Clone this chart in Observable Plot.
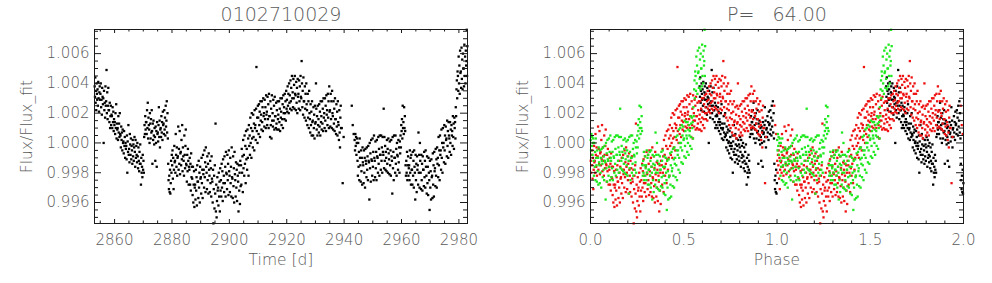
<!DOCTYPE html>
<html><head><meta charset="utf-8">
<script src="https://cdn.jsdelivr.net/npm/d3@7"></script>
<script src="https://cdn.jsdelivr.net/npm/@observablehq/plot@0.6"></script>
<style>
html,body{margin:0;padding:0;background:#fff;overflow:hidden;}
#row{display:flex;width:992px;height:283px;}
svg text{font-weight:200;}
</style></head><body><div id="row"></div>
<script>
// ---- labels / ticks ----
const starId = "0102710029";
const periodLabel = "P=\u00a0\u00a0\u00a064.00";
const period = 64.00;
const epoch = 2815.6;            // start of phase 0 (from colour boundaries)
const cycleColors = ["#000000", "#ee1111", "#1ee81e"];
const yLabel = "Flux/Flux_fit";
const timeLabel = "Time [d]";
const phaseLabel = "Phase";
const timeDomain = [2853, 2983];
const phaseDomain = [0, 2];
const fluxDomain = [0.99459, 1.00762];
const timeMajor = [2860, 2880, 2900, 2920, 2940, 2960, 2980];
const timeMinor = [2855, 2865, 2870, 2875, 2885, 2890, 2895, 2905, 2910, 2915, 2925, 2930, 2935, 2945, 2950, 2955, 2965, 2970, 2975];
const phaseMajor = [0, 0.5, 1, 1.5, 2];
const phaseMinor = [0.1, 0.2, 0.3, 0.4, 0.6, 0.7, 0.8, 0.9, 1.1, 1.2, 1.3, 1.4, 1.6, 1.7, 1.8, 1.9];
const fluxMajor = [0.996, 0.998, 1.000, 1.002, 1.004, 1.006];
const fluxMinor = [0.9950, 0.9955, 0.9965, 0.9970, 0.9975, 0.9985, 0.9990, 0.9995, 1.0005, 1.0010, 1.0015, 1.0025, 1.0030, 1.0035, 1.0045, 1.0050, 1.0055, 1.0065, 1.0070, 1.0075];

// ---- light curve ----
// each block: start time [d]; values = (flux-1)*1e4, samples spread over the block (<= 1 day)
const lastTime = 2983;
const blockStart = [2853,2854,2855,2856,2857,2858,2859,2860,2861,2862,2863,2864,2865,2866,2867,2868,2869,2870,2871,2872,2873,2874,2875,2876,2877,2878,2879,2880,2881,2882,2883,2884,2885,2886,2887,2888,2889,2890,2891,2892,2893,2894,2895,2896,2897,2898,2899,2900,2901,2902,2903,2904,2905,2906,2907,2908,2909,2910,2911,2912,2913,2914,2915,2916,2917,2918,2919,2920,2921,2922,2923,2924,2925,2926,2927,2928,2929,2930,2931,2932,2933,2934,2935,2936,2937,2938,2939,2942.5,2943.6,2944.6,2945.6,2946.6,2947.6,2948.6,2949.6,2950.6,2951.6,2952.6,2953.6,2954.6,2955.6,2956.6,2957.6,2958.6,2959.6,2960.6,2961.6,2962.6,2963.6,2964.6,2965.6,2966.6,2967.6,2968.6,2969.6,2970.6,2971.6,2972.6,2973.6,2974.6,2975.6,2976.6,2977.6,2978.6,2979.6,2980.6,2981.6,2982.6];
const blockFlux = [
[38,31,44,27,35,22,40,33,29],
[36,25,41,30,21,34,38,29],
[33,40,24,29,19,37,31,26],
[30,0,35,22,27,17,38,25],
[28,49,20,34,16,25,37,22],
[22,14,27,10,18,25,12,19],
[18,10,24,14,21,8,16,12],
[14,6,20,10,26,3,13,9],
[10,2,18,7,13,4,20,6],
[5,-3,11,2,7,-5,9,0],
[1,-7,8,-2,4,-10,0,-4],
[-2,-11,5,-20,1,-6,12,-8],
[-4,-13,6,-1,-8,3,-11,-2],
[-5,-14,2,-9,-1,-12,-3,4],
[-6,-16,2,-10,-2,-8,-13,0],
[-9,-17,-3,-12,-19,-6,-14,-1],
[-14,-28,-10,-20,-16,-23,-8,-18],
[-12,-20,4,12,6,18,9,14],
[14,6,22,10,27,3,17,12],
[9,0,20,13,3,16,7,22],
[8,-14,13,2,15,5,-1,10],
[4,-12,11,0,8,-16,14,6],
[7,1,12,24,4,15,-3,9],
[10,4,18,7,14,2,21,12],
[13,6,22,9,17,5,25,11],
[15,28,7,20,3,-14,-25,-31],
[-22,-33,-18,-34,-27,-12,-20,-8],
[-15,-5,-24,-10,-31,-18,-2,-13],
[-12,-20,6,-8,-16,-3,-22,-10],
[-9,11,-18,-4,-14,8,-21,-7],
[-6,-15,2,-11,12,-19,-3,-9],
[-12,-22,5,-8,-17,-2,9,-14],
[-15,-26,-8,-19,-4,-12,-28,-16],
[-18,-10,-28,-14,-32,-7,-23,-16],
[-24,-35,-16,-40,-28,-19,-43,-30],
[-28,-38,-18,-32,-23,-42,-15,-26],
[-26,-37,-12,-30,-20,-40,-16,-24],
[-23,-34,-10,-27,-18,-37,-8,-21],
[-18,-30,-5,-23,-13,-33,-3,-16],
[-20,-31,-9,-25,-14,-34,-7,-18],
[-22,-33,-12,-27,-17,-36,-9,-24],
[-26,-40,-18,-54,-31,-22,-44,-15],
[-34,13,-46,-28,-50,-39,-23,-32],
[-30,-42,-20,-36,-26,-46,-17,-32],
[-25,-36,-14,-30,-19,-39,-11,-27],
[-22,-33,-9,-27,-16,-36,-6,-20],
[-21,-31,-8,-25,-14,-35,-5,-19],
[-22,-33,-10,-27,-16,-36,-3,-23],
[-24,-37,-9,-29,-17,-40,-6,-21],
[-25,-36,-13,-30,-18,-39,-14,-22],
[-26,-46,-15,-32,-20,-41,-12,-29],
[-15,-28,-4,-20,-9,-33,2,-17],
[-8,-22,5,-14,-2,-27,8,-11],
[-4,-18,9,-10,3,-22,12,-2],
[5,-8,17,0,10,-10,20,3],
[8,-3,19,4,13,-5,22,10],
[12,2,23,51,8,17,0,25],
[17,6,26,12,21,4,28,15],
[19,9,28,14,24,8,30,18],
[20,11,29,16,24,10,32,19],
[21,12,31,16,26,10,33,18],
[18,4,28,12,23,3,32,15],
[20,11,29,15,25,9,31,18],
[18,10,27,13,22,9,28,16],
[19,9,28,14,23,8,30,17],
[21,12,30,16,26,10,32,20],
[24,16,33,20,28,15,35,23],
[29,21,38,25,33,20,40,27],
[32,23,42,28,37,22,45,30],
[34,24,43,30,39,23,45,33],
[32,22,41,27,37,20,43,31],
[33,23,42,28,38,22,45,31],
[30,55,40,24,35,19,44,28],
[28,17,38,23,33,15,40,26],
[22,12,33,17,28,10,35,20],
[16,7,26,12,21,5,28,14],
[15,5,24,10,19,3,25,13],
[14,40,23,9,18,5,25,12],
[16,7,26,11,21,5,28,14],
[18,9,28,13,23,8,30,17],
[20,10,30,15,25,8,32,19],
[22,12,33,17,28,10,38,21],
[22,11,33,16,28,10,35,20],
[18,9,28,13,23,8,30,16],
[16,6,26,11,21,5,28,14],
[12,2,22,7,-3,17,25,10],
[10,-27,4],
[25,12,6],
[2,-5,6,-2,4,-8,0,3],
[-12,-22,0,-16,-6,-25,3,-10],
[-15,-26,-5,-19,-10,-28,-3,-13],
[-15,-27,-5,-20,-10,-30,-4,-12],
[-14,-23,-3,-18,-9,-25,-2,-12],
[-13,-38,0,-17,-7,-26,2,-11],
[-12,-22,3,-16,-6,-25,5,-10],
[-12,-23,1,-17,-6,-25,2,-9],
[-10,-20,4,-14,-4,-22,5,-8],
[-8,-18,5,-12,-3,-20,4,-6],
[-8,23,-17,4,-12,-2,-18,-6],
[-10,-19,2,-14,-4,-20,3,-7],
[-11,-21,1,-15,-5,-22,2,-9],
[-12,-34,4,-17,-6,-25,5,-10],
[-10,-20,5,-14,-4,-22,0,-8],
[-9,-18,2,-13,-3,-20,1,-7],
[5,-3,12,8,16,3,25,10],
[14,6,24,10,18,8,-15,-22],
[-12,-20,-6,-25,-15,-9,-22,-17],
[-15,-25,-5,-20,-10,-28,-8,-18],
[-18,-28,-6,-22,-12,-30,-5,-16],
[-20,-38,-8,-25,-14,-33,-9,-18],
[-15,-28,7,-20,-8,-30,0,-12],
[-20,-31,-8,-25,-14,-32,-9,-18],
[-18,-29,-6,-23,-12,-30,-5,-16],
[-22,-34,-9,-27,-16,-35,-10,-20],
[-25,-45,-12,-30,-19,-38,-11,-23],
[-22,-37,-7,-28,-15,-36,-6,-19],
[-17,-29,-4,-22,-11,-30,-3,-14],
[-10,-23,4,-15,-5,-25,5,-8],
[-5,-18,9,-10,0,-20,10,-3],
[0,-13,12,-5,5,-14,11,2],
[3,-9,15,-2,8,-10,14,5],
[3,-6,14,0,9,-8,12,5],
[8,-2,18,4,13,-4,17,10],
[14,3,24,18,36,42,30,48],
[45,35,58,40,52,33,62,47],
[48,37,64,43,56,36,60,50],
[50,38,66,45,58,40,62,52],
[55,76,45,65]
];

// ---- build records ----
const points = [];
blockStart.forEach((s, i) => {
  const vals = blockFlux[i];
  const next = i + 1 < blockStart.length ? blockStart[i + 1] : lastTime;
  const dur = Math.min(1, next - s);
  vals.forEach((v, j) => points.push({t: s + dur * (j + 0.5) / vals.length, f: 1 + v * 1e-4}));
});
const folded = [];
for (const p of points) {
  const x = (p.t - epoch) / period;
  const cycle = Math.floor(x);
  const phase = x - cycle;
  folded.push({phase, f: p.f, cycle}, {phase: phase + 1, f: p.f, cycle});
}
folded.sort((a, b) => a.cycle - b.cycle);

// ---- panels ----
const W = 496, H = 283;
const M = {left: 94, right: 29, top: 29, bottom: 60};
const FH = H - M.top - M.bottom;
const FW = W - M.left - M.right;
const ink = "#1a1a1a", textGrey = "#5a5a5a";

function panel(cfg) {
  return Plot.plot({
    width: W, height: H,
    marginLeft: M.left, marginRight: M.right, marginTop: M.top, marginBottom: M.bottom,
    x: {domain: cfg.xDomain},
    y: {domain: fluxDomain},
    color: {type: "identity"},
    style: {fontFamily: '"DejaVu Sans", sans-serif', background: "#fff"},
    marks: [
      ...cfg.dataMarks,
      Plot.frame({stroke: ink, strokeWidth: 1}),
      Plot.ruleX(cfg.xMajor, {x: d => d, insetTop: FH - 4, stroke: ink}),
      Plot.ruleX(cfg.xMajor, {x: d => d, insetBottom: FH - 4, stroke: ink}),
      Plot.ruleX(cfg.xMinor, {x: d => d, insetTop: FH - 2.5, stroke: ink}),
      Plot.ruleX(cfg.xMinor, {x: d => d, insetBottom: FH - 2.5, stroke: ink}),
      Plot.ruleY(fluxMajor, {y: d => d, insetLeft: FW - 7, stroke: ink}),
      Plot.ruleY(fluxMajor, {y: d => d, insetRight: FW - 7, stroke: ink}),
      Plot.ruleY(fluxMinor, {y: d => d, insetLeft: FW - 4, stroke: ink}),
      Plot.ruleY(fluxMinor, {y: d => d, insetRight: FW - 4, stroke: ink}),
      Plot.axisX(cfg.xMajor, {tickSize: 0, tickPadding: 11, tickFormat: cfg.xFormat, fontSize: 15, fill: textGrey, label: null}),
      Plot.axisY(fluxMajor, {tickSize: 0, tickPadding: 5, tickFormat: d3.format(".3f"), fontSize: 15, fill: textGrey, label: null}),
      Plot.text([cfg.title], {text: d => d, frameAnchor: "top", textAnchor: "middle", lineAnchor: "middle", dy: -14.5, fontSize: 19, fill: textGrey}),
      Plot.text([cfg.xLabel], {text: d => d, frameAnchor: "bottom", textAnchor: "middle", lineAnchor: "middle", dy: 37, fontSize: 15.5, fill: textGrey}),
      Plot.text([yLabel], {text: d => d, frameAnchor: "left", textAnchor: "middle", lineAnchor: "middle", dx: -67, rotate: -90, fontSize: 15.5, fill: textGrey})
    ]
  });
}

const left = panel({
  xDomain: timeDomain, xMajor: timeMajor, xMinor: timeMinor, xFormat: d3.format("d"),
  title: starId, xLabel: timeLabel,
  dataMarks: [Plot.dot(points, {x: "t", y: "f", r: 1.3, symbol: "square", fill: "#000"})]
});
const right = panel({
  xDomain: phaseDomain, xMajor: phaseMajor, xMinor: phaseMinor, xFormat: d3.format(".1f"),
  title: periodLabel, xLabel: phaseLabel,
  dataMarks: [Plot.dot(folded, {x: "phase", y: "f", r: 1.3, symbol: "square", fill: d => cycleColors[d.cycle]})]
});
document.getElementById("row").append(left, right);
</script></body></html>
